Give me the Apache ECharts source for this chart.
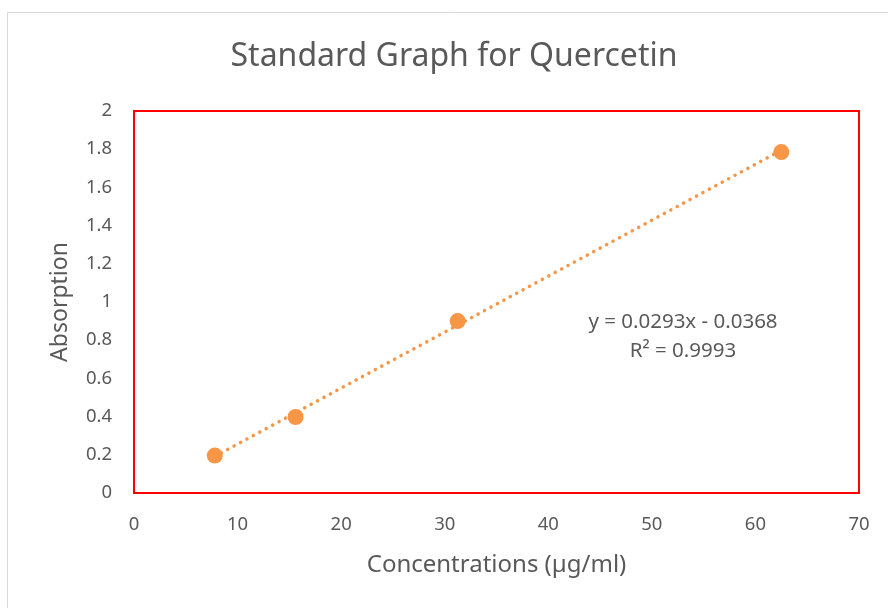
<!DOCTYPE html>
<html>
<head>
<meta charset="utf-8">
<script src="https://cdn.jsdelivr.net/npm/echarts@6/dist/echarts.min.js"></script>
<style>html,body{margin:0;padding:0;background:#fff;}#c{width:888px;height:608px;}</style>
</head>
<body>
<div id="c"></div>
<script>
var concentrations = [7.8, 15.6, 31.25, 62.5];
var absorption = [0.196, 0.398, 0.9, 1.785];
var trendX = [7.8, 62.5];
var trendY = [0.1917, 1.7945];
var titleText = 'Standard Graph for Quercetin';
var xName = 'Concentrations (µg/ml)';
var yName = 'Absorption';
var eqLines = ['y = 0.0293x - 0.0368', 'R² = 0.9993'];

var font = 'Noto Sans';
var grey = '#595959';
var orange = '#F79646';
var chart = echarts.init(document.getElementById('c'), null, {renderer: 'canvas'});
chart.setOption({
  backgroundColor: '#fff',
  animation: false,
  grid: {left: 134, top: 111, width: 725, height: 382, show: true, borderColor: '#FF0000', borderWidth: 2, backgroundColor: 'transparent'},
  xAxis: {
    type: 'value', min: 0, max: 70, interval: 10,
    name: xName, nameLocation: 'middle', nameGap: 60,
    nameTextStyle: {fontFamily: font, fontSize: 24, color: grey},
    axisLine: {show: false}, axisTick: {show: false}, splitLine: {show: false},
    axisLabel: {fontFamily: font, fontSize: 18.5, color: grey, margin: 22}
  },
  yAxis: {
    type: 'value', min: 0, max: 2, interval: 0.2,
    name: yName, nameLocation: 'middle', nameGap: 62,
    nameTextStyle: {fontFamily: font, fontSize: 23, color: grey},
    axisLine: {show: false}, axisTick: {show: false}, splitLine: {show: false},
    axisLabel: {fontFamily: font, fontSize: 18.5, color: grey, margin: 22,
      formatter: function (v) { return String(Math.round(v * 10) / 10); }}
  },
  graphic: [
    {type: 'rect', shape: {x: 7.5, y: 12.5, width: 1000, height: 1000}, style: {fill: 'none', stroke: '#D9D9D9', lineWidth: 1}, z: -10, silent: true},
    {type: 'text', x: 454, y: 57, style: {text: titleText, fontFamily: font, fontSize: 32, fill: grey, textAlign: 'center', textVerticalAlign: 'middle'}},
    {type: 'text', x: 683, y: 322, style: {text: eqLines[0], fontFamily: font, fontSize: 20.5, fill: grey, textAlign: 'center', textVerticalAlign: 'middle'}},
    {type: 'text', x: 683, y: 351, style: {text: eqLines[1], fontFamily: font, fontSize: 20.5, fill: grey, textAlign: 'center', textVerticalAlign: 'middle'}}
  ],
  series: [
    {
      type: 'line', data: trendX.map(function (x, i) { return [x, trendY[i]]; }),
      showSymbol: false, symbol: 'none',
      lineStyle: {color: orange, width: 3.5, type: [0.1, 7.2], cap: 'round'}, z: 1, silent: true
    },
    {
      type: 'scatter', data: concentrations.map(function (x, i) { return [x, absorption[i]]; }),
      symbol: 'circle', symbolSize: 16, itemStyle: {color: orange, opacity: 1}, z: 2
    }
  ]
});
</script>
</body>
</html>
